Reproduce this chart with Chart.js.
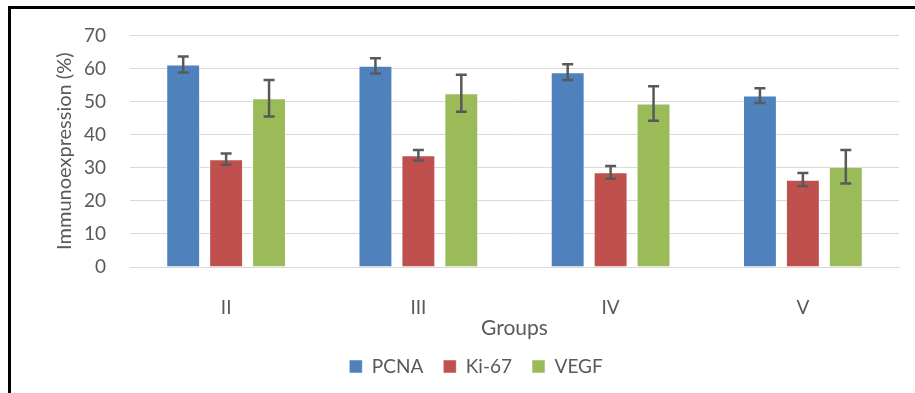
<!DOCTYPE html>
<html>
<head>
<meta charset="utf-8">
<script src="https://cdn.jsdelivr.net/npm/chart.js@4"></script>
<style>
  body { margin: 0; background: #fff; }
  #wrap { position: relative; width: 915px; height: 393px; overflow: hidden; }
  #frame { position: absolute; left: 8px; top: 6px; width: 940px; height: 420px;
           border-top: 3px solid #000; border-left: 3px solid #000; }
  canvas { position: absolute; left: 0; top: 0; }
</style>
</head>
<body>
<div id="wrap">
  <div id="frame"></div>
  <canvas id="chart" width="915" height="393"></canvas>
</div>
<script>
// groups on the x axis
const groups = ["II", "III", "IV", "V"];
const seriesNames = ["PCNA", "Ki-67", "VEGF"];
const seriesColors = ["#4F81BD", "#C0504D", "#9BBB59"];

// mean immunoexpression (%)
const pcna = [61.2, 60.8, 58.9, 51.8];
const ki67 = [32.6, 33.8, 28.6, 26.4];
const vegf = [51.0, 52.5, 49.4, 30.3];

// error bar half-lengths
const pcnaErr = [2.4, 2.3, 2.4, 2.2];
const ki67Err = [1.7, 1.6, 1.9, 2.0];
const vegfErr = [5.5, 5.6, 5.2, 5.1];

const yTicks = [0, 10, 20, 30, 40, 50, 60, 70];

const values = [pcna, ki67, vegf];
const errors = [pcnaErr, ki67Err, vegfErr];

const textColor = "#595959";
const fontFamily = "Lato, 'Open Sans', sans-serif";

// draws the whiskers using the y scale of the chart
const errorBars = {
  id: "errorBars",
  afterDatasetsDraw(chart) {
    const ctx = chart.ctx;
    const yScale = chart.scales.y;
    ctx.save();
    ctx.strokeStyle = "#595959";
    ctx.lineWidth = 2.5;
    chart.data.datasets.forEach((ds, i) => {
      const meta = chart.getDatasetMeta(i);
      meta.data.forEach((bar, j) => {
        const v = ds.data[j];
        const e = ds.errors[j];
        const top = yScale.getPixelForValue(v + e);
        const bottom = yScale.getPixelForValue(v - e);
        const x = bar.x;
        const cap = 5.5;
        ctx.beginPath();
        ctx.moveTo(x, top);
        ctx.lineTo(x, bottom);
        ctx.moveTo(x - cap, top);
        ctx.lineTo(x + cap, top);
        ctx.moveTo(x - cap, bottom);
        ctx.lineTo(x + cap, bottom);
        ctx.stroke();
      });
    });
    ctx.restore();
  }
};

const datasets = seriesNames.map((name, i) => ({
  label: name,
  data: values[i],
  errors: errors[i],
  backgroundColor: seriesColors[i],
  borderColor: "rgba(255,255,255,0.5)",
  borderWidth: 1,
  categoryPercentage: 0.67,
  barPercentage: 0.79
}));

new Chart(document.getElementById("chart"), {
  type: "bar",
  data: { labels: groups, datasets: datasets },
  plugins: [errorBars],
  options: {
    responsive: false,
    animation: false,
    layout: { padding: { left: 53, right: 16, top: 33, bottom: 7 } },
    plugins: {
      tooltip: { enabled: false },
      legend: {
        position: "bottom",
        labels: {
          color: textColor,
          font: { family: fontFamily, size: 19 },
          boxWidth: 13,
          boxHeight: 13,
          padding: 20
        }
      }
    },
    scales: {
      x: {
        grid: { display: false, drawTicks: false },
        border: { color: "#d9d9d9", width: 1 },
        ticks: { color: textColor, font: { family: fontFamily, size: 19 }, padding: 29 },
        title: {
          display: true,
          text: "Groups",
          color: textColor,
          font: { family: fontFamily, size: 21 },
          padding: { top: 0, bottom: -4 }
        },
        afterFit(scale) { scale.height = 70; }
      },
      y: {
        min: 0,
        max: 70,
        afterBuildTicks(scale) { scale.ticks = yTicks.map(v => ({ value: v })); },
        grid: { color: "#d9d9d9", lineWidth: 1, drawTicks: false },
        border: { display: false },
        ticks: { color: textColor, font: { family: fontFamily, size: 19 }, padding: 24 },
        title: {
          display: true,
          text: "Immunoexpression (%)",
          color: textColor,
          font: { family: fontFamily, size: 20 },
          padding: { top: 0, bottom: 0 }
        },
        afterFit(scale) { scale.width = 77; }
      }
    }
  }
});
</script>
</body>
</html>
